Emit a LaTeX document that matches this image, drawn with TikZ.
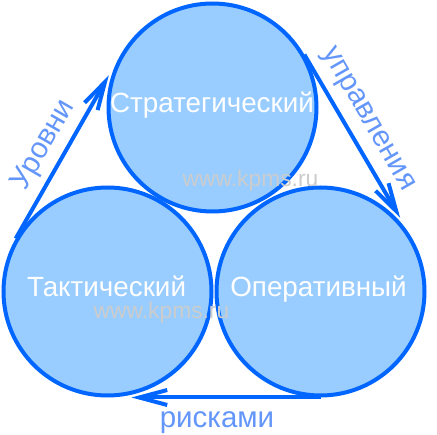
\documentclass[tikz,border=0pt]{standalone}
\usepackage{fontspec}
\setmainfont{Liberation Sans}
\usetikzlibrary{arrows.meta}
\definecolor{cfill}{RGB}{153,204,255}
\definecolor{cline}{RGB}{0,102,255}
\definecolor{lbl}{RGB}{100,150,250}
\definecolor{wm}{RGB}{204,204,204}
\begin{document}
\begin{tikzpicture}[x=1pt,y=-1pt,
 circ/.style={circle,draw=cline,fill=cfill,line width=4pt,minimum size=208pt,inner sep=0pt},
 ctext/.style={text=white,font=\fontsize{27.8}{32}\selectfont,anchor=base,inner sep=0pt},
 lab/.style={text=lbl,font=\fontsize{29.5}{34}\selectfont,inner sep=0pt},
 wmark/.style={text=wm,font=\fontsize{22.8}{26}\selectfont,anchor=base,inner sep=0pt},
 arr/.style={line width=4pt,draw=cline,-{Straight Barb[length=28pt,width=15pt]},shorten >=24pt}]
\useasboundingbox (0,0) rectangle (437,435);
\node[circ] (T) at (212.5,107.5) {};
\node[circ] (L) at (107.5,291.5) {};
\node[circ] (R) at (320.5,291.5) {};
\draw[arr] (L.150) -- (T.150);
\draw[arr] (T.30) -- (R.30);
\draw[arr] (R.270) -- (L.270);
\node[ctext] (tS) at (212,113) {Стратегический};
\node[ctext] (tT) at (106.5,297) {Тактический};
\node[ctext] (tO) at (318.5,297) {Оперативный};
\node[wmark] (w1) at (250.5,187) {www.kpms.ru};
\node[wmark] (w2) at (161.5,319) {www.kpms.ru};
\node[lab,anchor=base] (l3) at (217,428) {рисками};
\node[lab,rotate=60] (l1) at (44,145) {Уровни};
\node[lab,rotate=-60] (l2) at (367,120) {управления};
\end{tikzpicture}
\end{document}
